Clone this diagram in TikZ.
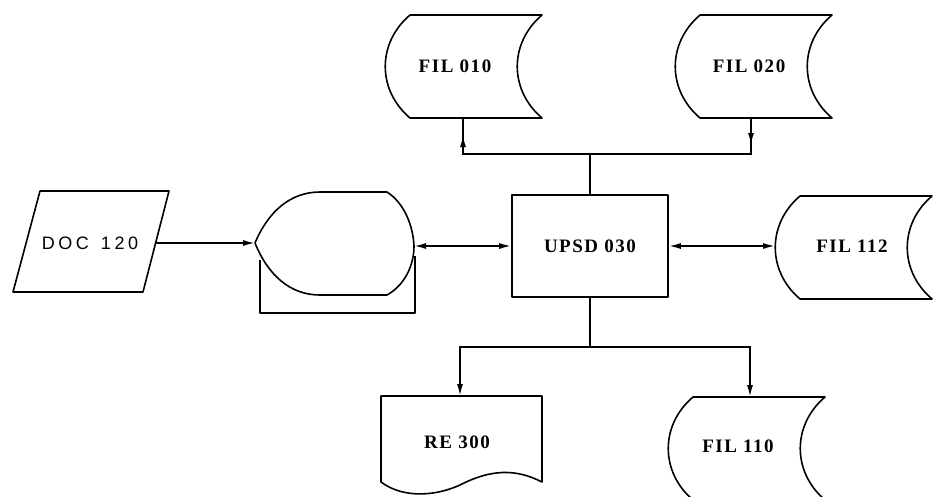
\documentclass[tikz,border=0pt]{standalone}
\usepackage{fontspec}
\setmainfont{Liberation Serif}
\newfontfamily\docfont{Liberation Sans}[LetterSpace=20]
\newfontfamily\labfont{Liberation Serif}[LetterSpace=8]
\usetikzlibrary{arrows.meta,calc}
\tikzset{
  shp/.style={line width=1.6pt, line join=round},
  con/.style={line width=1.7pt},
  arr/.style={con,-{Latex[length=12pt,width=6pt]}},
  arrtwo/.style={con,{Latex[length=12pt,width=6pt]}-{Latex[length=12pt,width=6pt]}},
  lab/.style={font=\labfont\bfseries\fontsize{19}{19}\selectfont, inner sep=0pt},
  doclab/.style={font=\docfont\fontsize{18}{18}\selectfont, inner sep=0pt}
}
\newcommand\filshape[3]{%
  \draw[shp,shift={(#1.center)}] (#2,#3) -- ++(132,0)
    .. controls +(-33,28) and +(-33,-28) .. ++(0,103) -- ++(-132,0)
    .. controls +(-33,-28) and +(-33,28) .. ++(0,-103) -- cycle;}
\begin{document}
\begin{tikzpicture}[x=1pt,y=-1pt]
\useasboundingbox (0,0) rectangle (933,496);
\clip (0,0) rectangle (933,496);

% labels / nodes
\node[lab] (f010) at (455,66) {FIL 010};
\node[lab] (f020) at (749,66) {FIL 020};
\node[lab] (f112) at (852,246) {FIL 112};
\node[lab] (f110) at (738,446) {FIL 110};
\node[lab] (re) at (457,442) {RE 300};
\node[lab,draw,shp,minimum width=156pt,minimum height=102pt] (upsd) at (590,246) {UPSD 030};
\node[doclab] (doc) at (90,243) {DOC\hspace{12pt}120};

% file shapes
\filshape{f010}{-45}{-51}
\filshape{f020}{-49}{-51}
\filshape{f112}{-52}{-50}
\filshape{f110}{-45}{-49}

% document (input) parallelogram
\draw[shp] (40,191) -- (169,191) -- (143,292) -- (13,292) -- cycle;
\coordinate (docR) at (155.6,243);

% display shape
\draw[shp] (255,243) .. controls (268,212) and (290,192) .. (320,192) -- (387,192)
  .. controls (404,203) and (413,225) .. (414,246)
  .. controls (414,265) and (405,285) .. (387,295) -- (320,295)
  .. controls (290,295) and (268,275) .. (255,243) -- cycle;
\coordinate (dispL) at (255,243);
\coordinate (dispR) at (414,246);
\draw[shp] (260,260) -- (260,313) -- (415,313) -- (415,256);

% report document
\draw[shp] (381,396) -- (542,396) -- (542,482)
  .. controls (515,468) and (490,470) .. (462,484)
  .. controls (440,495) and (405,500) .. (381,482) -- cycle;

% connection points
\coordinate (f010b) at ($(f010)+(8,52)$);
\coordinate (f020b) at ($(f020)+(2,52)$);
\coordinate (f112L) at ($(f112)+(-77,1.5)$);
\coordinate (f110t) at ($(f110)+(12,-49)$);
\coordinate (reT) at ($(re)+(3,-46)$);
\coordinate (jtop) at (590,154);
\coordinate (jbot) at (590,347);

% connectors
\draw[arr] (docR) -- (dispL);
\draw[arrtwo] (dispR) -- (upsd.west);
\draw[arrtwo] (upsd.east) -- (upsd.east -| f112L);

\draw[con] (upsd.north) -- (jtop);
\draw[con] (f010b) -- (f010b |- jtop) -- (f020b |- jtop) -- (f020b);
\draw[arr] (f010b |- jtop) -- ($(f010b)+(0,17)$);
\draw[arr] (f020b) -- ($(f020b)+(0,27)$);

\draw[con] (upsd.south) -- (jbot);
\draw[arr] (jbot) -| (reT);
\draw[arr] (jbot) -| (f110t);
\end{tikzpicture}
\end{document}
